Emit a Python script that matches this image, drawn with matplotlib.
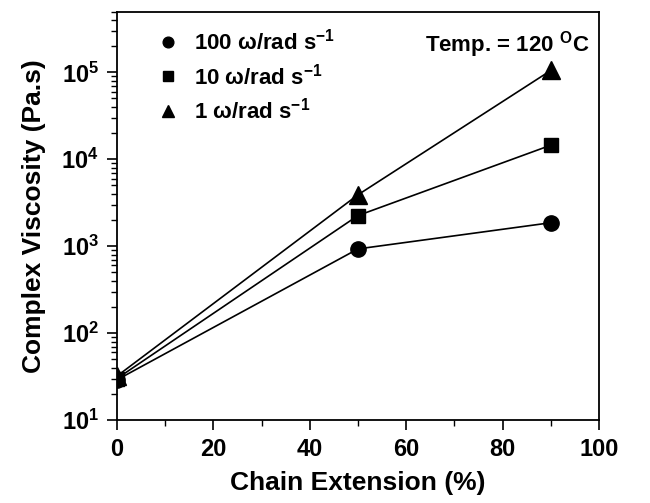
import matplotlib
matplotlib.use("Agg")
import matplotlib.pyplot as plt
from matplotlib.ticker import LogLocator, NullFormatter

plt.rcParams['font.family'] = ['Liberation Sans', 'DejaVu Sans']
plt.rcParams['font.weight'] = 'bold'
plt.rcParams['mathtext.fontset'] = 'custom'
plt.rcParams['mathtext.rm'] = 'Liberation Sans:bold'
plt.rcParams['mathtext.bf'] = 'Liberation Sans:bold'
plt.rcParams['mathtext.it'] = 'Liberation Sans:bold'

chain_ext = [0, 50, 90]
visc_100 = [29, 930, 1860]
visc_10 = [30, 2250, 14500]
visc_1 = [32, 3900, 105000]
labels = [r"100 ω/rad s$^{\mathrm{-1}}$", r"10 ω/rad s$^{\mathrm{-1}}$", r"1 ω/rad s$^{\mathrm{-1}}$"]
xticks = [0, 20, 40, 60, 80, 100]

fig = plt.figure(figsize=(6.5, 5.03), dpi=100)
ax = fig.add_axes([0.18, 0.165, 0.7415, 0.812])

ax.plot(chain_ext, visc_100, '-o', color='black', lw=1.2, ms=11, label=labels[0])
ax.plot(chain_ext, visc_10, '-s', color='black', lw=1.2, ms=10, label=labels[1])
ax.plot(chain_ext, visc_1, '-^', color='black', lw=1.2, ms=13, label=labels[2])

ax.set_yscale('log')
ax.set_xlim(0, 100)
ax.set_ylim(10, 5e5)
ax.set_xticks(xticks)
ax.set_xticks(range(10, 100, 20), minor=True)
ax.yaxis.set_minor_locator(LogLocator(base=10, subs=[2, 3, 4, 5, 6, 7, 8, 9], numticks=20))
ax.yaxis.set_minor_formatter(NullFormatter())
ax.tick_params(axis='both', which='major', direction='out', length=7, width=1.2, labelsize=17, pad=6)
ax.tick_params(axis='both', which='minor', direction='out', length=4, width=1.0)
ax.tick_params(top=False, right=False, which='both')
for s in ax.spines.values():
    s.set_linewidth(1.3)
for lab in ax.get_xticklabels() + ax.get_yticklabels():
    lab.set_fontweight('bold')

ax.set_xlabel("Chain Extension (%)", fontsize=19, fontweight='bold', labelpad=7)
ax.set_ylabel("Complex Viscosity (Pa.s)", fontsize=19, fontweight='bold', labelpad=11)

leg = ax.legend(loc='upper left', frameon=False, fontsize=16, markerscale=0.7,
                handlelength=1.2, handletextpad=0.6, labelspacing=0.38,
                borderaxespad=0.2, bbox_to_anchor=(0.05, 0.99))
for h in leg.legend_handles:
    h.set_linestyle('None')

ax.text(0.64, 0.92, r"Temp. = 120 $^{\mathrm{O}}$C", transform=ax.transAxes,
        fontsize=16, fontweight='bold', ha='left', va='center')

fig.savefig("out.png", dpi=100)
